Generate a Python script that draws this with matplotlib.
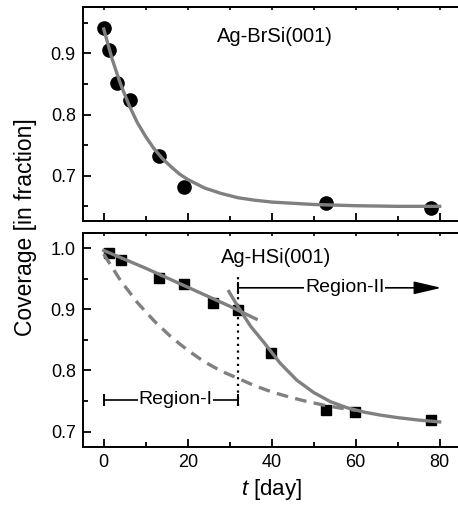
import numpy as np
import matplotlib
matplotlib.use("Agg")
import matplotlib.pyplot as plt
from matplotlib.ticker import MultipleLocator

plt.rcParams['font.family'] = ['Liberation Sans', 'DejaVu Sans']
plt.rcParams['mathtext.fontset'] = 'custom'
plt.rcParams['mathtext.it'] = 'Liberation Sans:italic'
plt.rcParams['mathtext.rm'] = 'Liberation Sans'

br_days = [0, 1.2, 3.2, 6.3, 13.1, 19.0, 53.0, 77.9]
br_cov = [0.941, 0.906, 0.852, 0.824, 0.733, 0.681, 0.656, 0.647]
br_fit_days = [0, 2, 4, 6, 8, 10, 12, 14, 16, 18, 20, 24, 28, 32, 36, 40, 50, 60, 70, 80]
br_fit_cov = [0.940, 0.891, 0.850, 0.816, 0.787, 0.764, 0.744, 0.728, 0.715, 0.703,
              0.694, 0.680, 0.671, 0.664, 0.660, 0.657, 0.653, 0.651, 0.650, 0.650]

# Ag-HSi(001): measured points
h_days = [1.2, 4.1, 13.1, 19.0, 26.0, 31.9, 39.9, 53.0, 59.9, 77.9]
h_cov = [0.992, 0.980, 0.951, 0.941, 0.911, 0.898, 0.828, 0.735, 0.732, 0.719]

# region I fit (solid), region II fit (solid), single fit (dashed)
r1_days = [0, 10, 20, 30, 36.3]
r1_cov = [0.996, 0.967, 0.936, 0.905, 0.884]
r2_days = [29.8, 32, 35, 38, 42, 46, 50, 54, 58, 62, 66, 70, 75, 80]
r2_cov = [0.929, 0.904, 0.872, 0.847, 0.812, 0.784, 0.764, 0.749, 0.739, 0.732,
          0.727, 0.723, 0.719, 0.716]
dash_days = [0, 4, 8, 12, 16, 20, 24, 28, 32, 36, 40, 44, 48, 52, 56, 60]
dash_cov = [0.990, 0.947, 0.911, 0.881, 0.855, 0.833, 0.814, 0.799, 0.787, 0.775,
            0.765, 0.757, 0.750, 0.744, 0.739, 0.735]

region_split = 32
region_end = 80.4

gray = '#808080'

fig = plt.figure(figsize=(4.58, 5.11), dpi=100)
ax1 = fig.add_axes([0.1806, 0.5675, 0.8253, 0.4188])
ax2 = fig.add_axes([0.1806, 0.1252, 0.8253, 0.4194])


def style_axes(ax, ylim):
    ax.set_xlim(-5, 85)
    ax.set_ylim(*ylim)
    ax.xaxis.set_major_locator(MultipleLocator(20))
    ax.xaxis.set_minor_locator(MultipleLocator(10))
    ax.yaxis.set_major_locator(MultipleLocator(0.1))
    ax.yaxis.set_minor_locator(MultipleLocator(0.05))
    ax.yaxis.set_major_formatter(matplotlib.ticker.FormatStrFormatter('%.1f'))
    ax.tick_params(which='both', direction='in', width=1.3, labelsize=13,
                   top=False, right=False, pad=5)
    ax.tick_params(which='major', length=6)
    ax.tick_params(which='minor', length=3.5)
    for s in ax.spines.values():
        s.set_linewidth(1.4)
    ax.spines['right'].set_visible(False)
    sec = ax.secondary_xaxis('top')
    sec.xaxis.set_major_locator(MultipleLocator(10))
    sec.tick_params(direction='in', length=2.5, width=1.2, labeltop=False)
    sec.spines['top'].set_linewidth(1.4)


style_axes(ax1, (0.626, 0.976))
style_axes(ax2, (0.675, 1.025))
ax1.tick_params(labelbottom=False)

# top panel
ax1.plot(br_fit_days, br_fit_cov, color=gray, lw=2.4, zorder=3)
ax1.plot(br_days, br_cov, 'o', color='black', ms=9.5, zorder=2)
ax1.text(40.7, 0.927, 'Ag-BrSi(001)', fontsize=14.5, ha='center', va='center')

# bottom panel
ax2.plot(h_days, h_cov, 's', color='black', ms=7.5, zorder=2)
ax2.plot(dash_days, dash_cov, color=gray, lw=2.4, dashes=(3.5, 2.2), zorder=3)
ax2.plot(r1_days, r1_cov, color=gray, lw=2.4, zorder=3)
ax2.plot(r2_days, r2_cov, color=gray, lw=2.4, zorder=3)
ax2.text(41, 0.984, 'Ag-HSi(001)', fontsize=14.5, ha='center', va='center')

# region markers
ax2.plot([region_split, region_split], [0.742, 0.952], color='black', lw=1.6,
         dashes=(1.0, 2.0), zorder=1)
ax2.plot([0, region_split], [0.752, 0.752], color='black', lw=1.2, zorder=1)
ax2.plot([0, region_split], [0.752, 0.752], '|', color='black', ms=9, mew=1.4)
ax2.text(17.1, 0.752, 'Region-I', fontsize=14, ha='center', va='center',
         bbox=dict(facecolor='white', edgecolor='none', pad=0.5))
ax2.plot([region_split], [0.935], '|', color='black', ms=9, mew=1.4)
ax2.annotate('', xy=(region_end, 0.935), xytext=(region_split, 0.935),
             arrowprops=dict(arrowstyle='-|>,head_length=1.2,head_width=0.28',
                             color='black', lw=1.2, mutation_scale=14,
                             shrinkA=0, shrinkB=0))
ax2.text(57.4, 0.935, 'Region-II', fontsize=14, ha='center', va='center',
         bbox=dict(facecolor='white', edgecolor='none', pad=0.5))

ax2.set_xlabel('$t$ [day]', fontsize=16, labelpad=4)
fig.text(0.055, 0.556, 'Coverage [in fraction]', rotation=90, fontsize=16.5,
         ha='center', va='center')

fig.savefig('out.png', dpi=100)
